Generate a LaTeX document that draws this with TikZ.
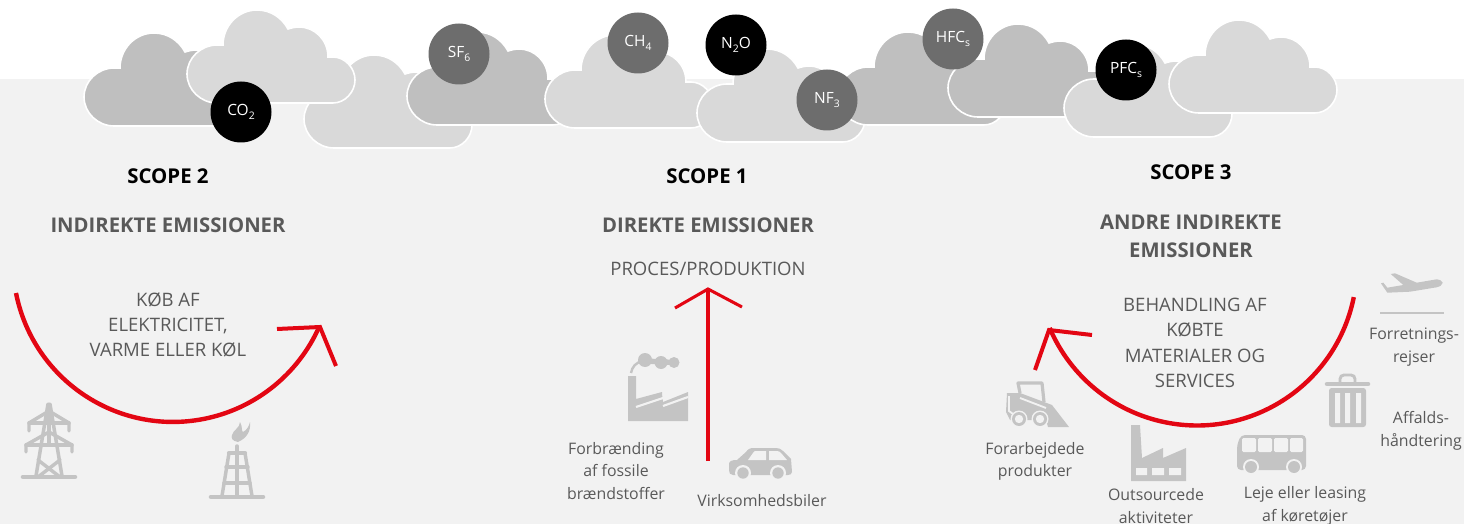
\documentclass[tikz,border=0pt]{standalone}
\usepackage{fontspec}
\setmainfont{Open Sans}
\definecolor{bgg}{HTML}{F2F2F2}
\definecolor{cdark}{HTML}{BFBFBF}
\definecolor{clight}{HTML}{D9D9D9}
\definecolor{gasg}{HTML}{6D6D6D}
\definecolor{txt}{HTML}{595959}
\definecolor{redl}{HTML}{E30613}
\definecolor{ico}{HTML}{C4C4C4}
\newcommand{\cloudat}[3]{\path[cloudline,fill=#3,shift={(#1,#2)}] (30,93) .. controls (14,93) and (0,80) .. (0,64) .. controls (0,48) and (14,35) .. (30,35) -- (36,35) .. controls (36,16) and (51,0) .. (70,0) .. controls (84,0) and (95,8) .. (101,19) .. controls (104,18) and (108,17) .. (112,17) .. controls (128,17) and (141,30) .. (141,47) -- (146,47) .. controls (158,47) and (168,58) .. (168,70) .. controls (168,82) and (158,93) .. (146,93) -- cycle;}
\newcommand{\lowsub}[1]{\raisebox{-3pt}{\fontsize{7.8}{8}\selectfont #1}}
\tikzset{
  cloudline/.style={draw=white,line width=1.2pt},
  gasgrey/.style={circle,fill=gasg,text=white,minimum size=45.75pt,inner sep=0pt,font=\fontsize{11.6}{13}\selectfont},
  gasblack/.style={gasgrey,fill=black},
  head/.style={font=\bfseries\fontsize{15.3}{21}\selectfont,text=black,inner sep=0pt},
  sub/.style={font=\bfseries\fontsize{15.2}{21}\selectfont,text=txt,align=center,inner sep=0pt},
  upper/.style={font=\fontsize{13.9}{19}\selectfont,text=txt,align=center,inner sep=0pt},
  small/.style={font=\fontsize{11.9}{16.8}\selectfont,text=txt,align=center,inner sep=0pt},
  redline/.style={draw=redl,line width=3.3pt},
  redhead/.style={draw=redl,line width=3pt,miter limit=10},
  redheadthin/.style={draw=redl,line width=2.3pt,miter limit=10},
  icoline/.style={draw=ico,line width=2.6pt},
  icofill/.style={fill=ico},
  bgfill/.style={fill=bgg},
}
\begin{document}
\begin{tikzpicture}[x=0.75pt,y=-0.75pt]
\useasboundingbox (0,0) rectangle (1464,524);
\fill[white] (0,0) rectangle (1464,79);
\fill[bgg] (0,79) rectangle (1464,524);
% clouds
\cloudat{84}{33}{cdark}
\cloudat{304}{55}{clight}
\cloudat{187}{10}{clight}
\cloudat{407}{32}{cdark}
\cloudat{545}{35}{clight}
\cloudat{697}{49}{clight}
\cloudat{838}{32}{cdark}
\cloudat{948}{24}{cdark}
\cloudat{1064}{44}{clight}
\cloudat{1169}{20}{clight}
% gas circles
\node[gasblack] (co2) at (241,112) {CO\lowsub{2}};
\node[gasgrey] (sf6) at (459,54) {SF\lowsub{6}};
\node[gasgrey] (ch4) at (638,43) {CH\lowsub{4}};
\node[gasblack] (n2o) at (736,45) {N\lowsub{2}O};
\node[gasgrey] (nf3) at (827,100) {NF\lowsub{3}};
\node[gasgrey] (hfc) at (953,39) {HFC\lowsub{s}};
\node[gasblack] (pfc) at (1126,70) {PFC\lowsub{s}};
% headings
\node[head] (s2) at (168,176) {SCOPE 2};
\node[sub] (d2) at (168,225) {INDIREKTE EMISSIONER};
\node[head] (s1) at (707,176) {SCOPE 1};
\node[sub] (d1) at (708,225) {DIREKTE EMISSIONER};
\node[head] (s3) at (1191,172) {SCOPE 3};
\node[sub] (d3) at (1191,236) {ANDRE INDIREKTE\\EMISSIONER};
\node[upper] (p1) at (708,269) {PROCES/PRODUKTION};
\node[upper] (p2) at (168,325) {KØB AF\\ELEKTRICITET,\\VARME ELLER KØL};
\node[upper] (p3) at (1195,343) {BEHANDLING AF\\KØBTE\\MATERIALER OG\\SERVICES};
% small labels
\node[small] (t1) at (616,471) {Forbrænding\\af fossile\\brændstoffer};
\node[small] (t2) at (762,501) {Virksomhedsbiler};
\node[small] (t3) at (1035,461.5) {Forarbejdede\\produkter};
\node[small] (t4) at (1156,506) {Outsourcede\\aktiviteter};
\node[small] (t5) at (1305,506) {Leje eller leasing\\af køretøjer};
\node[small] (t6) at (1414,347) {Forretnings-\\rejser};
\node[small] (t7) at (1421,431) {Affalds-\\håndtering};
% red arrows
\coordinate (la) at (16,293);
\coordinate (lt) at (320,327);
\coordinate (lh1) at (277,329);
\coordinate (lh2) at (336,366);
\draw[redline] (la) arc[start angle=191.2,end angle=336.1,radius=120pt];
\draw[redhead] (lh1) -- (lt) -- (lh2);
\coordinate (ma) at (708,461);
\coordinate (mt) at (708,289);
\coordinate (mh1) at (675,308);
\coordinate (mh2) at (742,307);
\draw[redline,line width=3pt] (ma) -- (mt);
\draw[redheadthin] (mh1) -- (mt) -- (mh2);
\coordinate (ra) at (1353.8,297.1);
\coordinate (rt) at (1049,330);
\coordinate (rh1) at (1092,335);
\coordinate (rh2) at (1035,370);
\draw[redline] (ra) arc[start angle=-11.4,end angle=-157,radius=120pt];
\draw[redhead] (rh1) -- (rt) -- (rh2);
% pylon
\begin{scope}[icoline,line width=2.6pt,line cap=round,line join=round]
\draw[line width=3.4pt] (23,477) -- (75,477);
\draw (48,404) -- (36,476);
\draw (50,404) -- (62,476);
\draw (29,431) -- (29,423) -- (49,411) -- (69,423) -- (69,431);
\draw (26,452) -- (26,445) -- (49,432) -- (72,445) -- (72,452);
\draw (29,423) -- (69,423);
\draw (26,445) -- (72,445);
\draw (38,460) -- (60,477);
\draw (60,460) -- (38,477);
\draw (49,411) -- (49,445);
\end{scope}
% flare tower
\begin{scope}[icoline,line width=2.6pt,line cap=round,line join=round]
\draw[line width=3.4pt] (211,497) -- (263,497);
\draw (222,496) -- (229,453);
\draw (252,496) -- (245,453);
\draw[line width=3.2pt] (229,453) -- (245,453);
\draw (237,446) -- (237,496);
\draw (226,467) -- (248,467);
\draw (224,483) -- (250,483);
\end{scope}
\fill[icofill] (238,442) .. controls (232,441) and (231,438) .. (232,435) .. controls (233,430) and (240,428) .. (240,422) .. controls (243,427) and (241,431) .. (243,432) .. controls (247,430) and (249,426) .. (250,422) .. controls (251,431) and (247,438) .. (238,442) -- cycle;
% factory 1
\fill[icofill] (628,376) -- (636,376) -- (636,399) -- (662,392) -- (662,394) -- (663,402) -- (688,392) -- (688,421) -- (628,421) -- cycle;
\draw[bgg,line width=1.6pt] (636,407) -- (663,398);
\draw[bgg,line width=1.6pt] (663,406) -- (688,397);
\draw[icoline,line width=4pt] (645,361) -- (674,362.5);
\fill[icofill] (645,360) circle[radius=7] (661,362.5) circle[radius=6.5] (674,362.5) circle[radius=5.5];
\draw[icoline,line width=1.8pt] (631,373) .. controls (632,367) and (636,362) .. (643,361);
% car
\fill[icofill] (729,470) -- (729,464) .. controls (729,461) and (732,460) .. (737,460) -- (746,452) .. controls (748,449) and (750,448) .. (754,448) -- (776,448) .. controls (779,448) and (781,449) .. (783,451) -- (791,459) -- (792,472) .. controls (792,474) and (790,475) .. (788,475) -- (733,475) .. controls (730,475) and (729,473) .. (729,470) -- cycle;
\fill[bgg] (748,460) -- (753,453) .. controls (754,451) and (755,451) .. (757,451) -- (766,451) -- (766,460) -- cycle;
\fill[bgg] (769,451) -- (777,451) .. controls (779,451) and (780,452) .. (781,453) -- (787,460) -- (769,460) -- cycle;
\fill[bgg] (743,473) circle[radius=8] (778,473) circle[radius=8];
\fill[icofill] (743,473) circle[radius=5.7] (778,473) circle[radius=5.7];
% skid loader
\draw[icoline,line width=2.4pt,line join=round] (1020,393) -- (1018,383) -- (1042,383) -- (1044,402);
\fill[icofill] (1007,393) -- (1020,393) -- (1052,405) -- (1069,427) -- (1048,427) -- (1046,420) -- (1010,420) -- (1006,412) -- cycle;
\draw[bgg,line width=1.4pt] (1009,396) -- (1009,411) -- (1013,414);
\draw[bgg,line width=1.4pt] (1020,398) -- (1046,408);
\fill[bgg] (1019,419) circle[radius=8.5] (1040,419) circle[radius=8.5];
\fill[ico] (1019,419) circle[radius=7] (1040,419) circle[radius=7];
\fill[bgg] (1019,419) circle[radius=4.2] (1040,419) circle[radius=4.2];
% factory 2
\fill[icofill] (1131,425) -- (1140,425) -- (1142,458) -- (1163,448) -- (1163,458) -- (1186,448) -- (1186,481) -- (1131,481) -- cycle;
\fill[bgg] (1136,468) rectangle (1147,475) (1152,468) rectangle (1164,475) (1169,468) rectangle (1181,475);
% bus
\fill[icofill,rounded corners=3pt] (1237,470) -- (1237,445) -- (1241,435) -- (1306,435) -- (1306,470) -- cycle;
\fill[bgg,rounded corners=1pt] (1242,438) rectangle (1256,452) (1258,438) rectangle (1272,452) (1274,438) rectangle (1288,452) (1290,438) rectangle (1303,452);
\fill[bgg] (1251,467) circle[radius=8] (1294,467) circle[radius=8];
\fill[icofill] (1251,467) circle[radius=6] (1294,467) circle[radius=6];
% airplane
\fill[icofill,line join=round] (1442.7,282.7) .. controls (1442,280.5) and (1439,279.3) .. (1436.7,279.3) -- (1416.7,282.7) -- (1395,273.3) -- (1390.7,274) -- (1403.3,285) -- (1387.3,287.7) -- (1383.3,282.7) -- (1381,283.3) -- (1387.3,292.7) -- (1410,291.7) -- (1436.7,287.3) .. controls (1440,286.5) and (1442.5,285) .. (1442.7,282.7) -- cycle;
\draw[icoline,line width=2pt] (1380,313) -- (1444,313);
% trash bin
\draw[icoline,line width=3.4pt,line cap=round] (1327,384) -- (1368,384);
\draw[icoline,line width=2.2pt,rounded corners=3pt] (1340,383) -- (1340,375) -- (1355,375) -- (1355,383);
\fill[icofill,rounded corners=2pt] (1329,388) -- (1366,388) -- (1366,427) -- (1329,427) -- cycle;
\fill[bgg] (1335,393) rectangle (1340,423) (1345,393) rectangle (1350,423) (1356,393) rectangle (1361,423);
\end{tikzpicture}
\end{document}
